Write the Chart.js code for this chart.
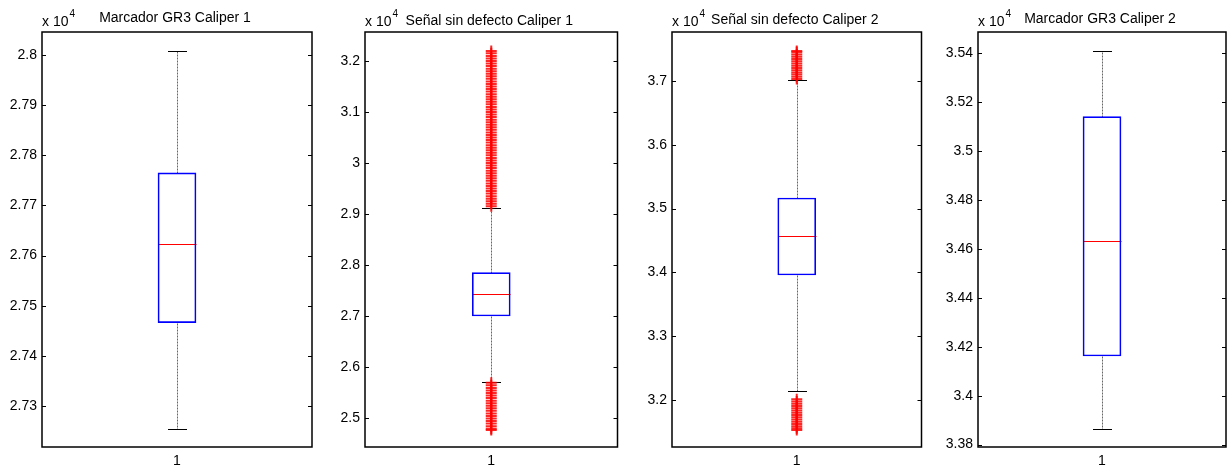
<!DOCTYPE html>
<html>
<head>
<meta charset="utf-8">
<script src="https://cdn.jsdelivr.net/npm/chart.js@4.4.1/dist/chart.umd.min.js"></script>
<style>
  body { margin: 0; background: #fff; width: 1230px; height: 468px; overflow: hidden; position: relative; }
  canvas { position: absolute; top: 0; }
</style>
</head>
<body>
<script>
// data (raw values, axes labelled in units of 10^4)
const categories = ['1'];
const titles = ['Marcador GR3 Caliper 1', 'Señal sin defecto Caliper 1', 'Señal sin defecto Caliper 2', 'Marcador GR3 Caliper 2'];

const boxMin    = [27254, 25706, 32141, 33864];
const boxQ1     = [27466, 27000, 33959, 34162];
const boxMedian = [27623, 27426, 34571, 34633];
const boxQ3     = [27765, 27849, 35166, 35141];
const boxMax    = [28008, 29124, 37016, 35409];

const outliers1 = [];
const outliers2 = [
  29150, 29200, 29250, 29300, 29350, 29400, 29450, 29500, 29550, 29600,
  29650, 29700, 29750, 29800, 29850, 29900, 29950, 30000, 30050, 30100,
  30150, 30200, 30250, 30300, 30350, 30400, 30450, 30500, 30550, 30600,
  30650, 30700, 30750, 30800, 30850, 30900, 30950, 31000, 31050, 31100,
  31150, 31200, 31250, 31300, 31350, 31400, 31450, 31500, 31550, 31600,
  31650, 31700, 31750, 31800, 31850, 31900, 31950, 32000, 32050, 32100,
  32150, 32196,
  25690, 25640, 25590, 25540, 25490, 25440, 25390, 25340, 25290, 25240,
  25190, 25140, 25090, 25040, 24990, 24940, 24890, 24840, 24790, 24765
];
const outliers3 = [
  37030, 37065, 37100, 37135, 37170, 37205, 37240, 37275, 37310, 37345,
  37380, 37415, 37450, 37470,
  32010, 31975, 31940, 31905, 31870, 31835, 31800, 31765, 31730, 31695,
  31660, 31625, 31590, 31555, 31530
];
const outliers4 = [];

const yMin = [27218, 24431, 31263, 33790];
const yMax = [28046, 32569, 37768, 35487];
const yTicks1 = [27300, 27400, 27500, 27600, 27700, 27800, 27900, 28000];
const yTicks2 = [25000, 26000, 27000, 28000, 29000, 30000, 31000, 32000];
const yTicks3 = [32000, 33000, 34000, 35000, 36000, 37000];
const yTicks4 = [33800, 34000, 34200, 34400, 34600, 34800, 35000, 35200, 35400];

const outliers = [outliers1, outliers2, outliers3, outliers4];
const yTicks = [yTicks1, yTicks2, yTicks3, yTicks4];

// layout of the four axes boxes (pixels)
const axLeft  = [42, 365, 672, 978];
const axRight = [312, 622, 926, 1226];
const titleY  = [22, 24.5, 24, 22.5];
const YAXIS_W = 45, TOP = 32, XAXIS_H = 21, RIGHT_PAD = 3;
const FONT = '"Liberation Sans", Arial, Helvetica, sans-serif';

const fmt = v => String(parseFloat((v / 1e4).toFixed(4)));

const boxPlugin = {
  id: 'boxParts',
  beforeDatasetsDraw(chart) {
    const s = chart.options.plugins.boxParts;
    const { ctx, scales: { x, y } } = chart;
    const cx = Math.round(x.getPixelForValue(0)) + 0.5;
    const py = v => Math.round(y.getPixelForValue(v)) + 0.5;
    ctx.save();
    ctx.lineWidth = 1;
    // dashed whiskers
    ctx.strokeStyle = '#666';
    ctx.setLineDash([2, 1]);
    ctx.beginPath();
    ctx.moveTo(cx, py(s.q3)); ctx.lineTo(cx, py(s.max));
    ctx.moveTo(cx, py(s.q1)); ctx.lineTo(cx, py(s.min));
    ctx.stroke();
    // caps
    ctx.setLineDash([]);
    ctx.strokeStyle = '#000';
    ctx.beginPath();
    [s.max, s.min].forEach(v => { ctx.moveTo(cx - 9.5, py(v)); ctx.lineTo(cx + 9.5, py(v)); });
    ctx.stroke();
    // median
    ctx.strokeStyle = '#ff0000';
    ctx.beginPath();
    ctx.moveTo(cx - 19, py(s.median)); ctx.lineTo(cx + 19, py(s.median));
    ctx.stroke();
    ctx.restore();
  }
};

const framePlugin = {
  id: 'frame',
  afterDraw(chart) {
    const o = chart.options.plugins.frame;
    const { ctx, chartArea: a, scales: { y } } = chart;
    ctx.save();
    ctx.strokeStyle = '#000';
    ctx.lineWidth = 1.5;
    ctx.strokeRect(a.left, a.top, a.right - a.left, a.bottom - a.top);
    ctx.lineWidth = 1;
    ctx.beginPath();
    y.ticks.forEach(t => {
      const p = Math.round(y.getPixelForValue(t.value)) + 0.5;
      ctx.moveTo(a.left, p); ctx.lineTo(a.left + 4, p);
      ctx.moveTo(a.right - 4, p); ctx.lineTo(a.right, p);
    });
    ctx.stroke();
    // exponent label and title
    ctx.fillStyle = '#000';
    ctx.textBaseline = 'alphabetic';
    ctx.textAlign = 'left';
    ctx.font = '14px ' + FONT;
    ctx.fillText('x 10', a.left, 25.5);
    const w = ctx.measureText('x 10').width;
    ctx.font = '10px ' + FONT;
    ctx.fillText('4', a.left + w + 1, 17);
    ctx.font = '14px ' + FONT;
    ctx.textAlign = 'center';
    ctx.fillText(o.title, (a.left + a.right) / 2 - 2, o.titleY);
    ctx.restore();
  }
};

Chart.defaults.font.family = FONT;
Chart.defaults.font.size = 14;
Chart.defaults.color = '#000';

for (let i = 0; i < 4; i++) {
  const canvas = document.createElement('canvas');
  const W = axRight[i] - axLeft[i] + YAXIS_W + RIGHT_PAD;
  canvas.width = W;
  canvas.height = 468;
  canvas.style.left = (axLeft[i] - YAXIS_W) + 'px';
  canvas.style.width = W + 'px';
  canvas.style.height = '468px';
  document.body.appendChild(canvas);

  const ticks = yTicks[i];
  new Chart(canvas.getContext('2d'), {
    type: 'bar',
    data: {
      labels: categories,
      datasets: [
        {
          data: [[boxQ1[i], boxQ3[i]]],
          backgroundColor: 'rgba(0,0,0,0)',
          borderColor: '#0000ff',
          borderWidth: 1,
          borderSkipped: false,
          barThickness: 38
        },
        {
          type: 'scatter',
          data: outliers[i].map(v => ({ x: categories[0], y: v })),
          pointStyle: 'cross',
          radius: 5.5,
          borderColor: 'rgba(255,0,0,0.85)',
          borderWidth: 2,
          backgroundColor: '#ff0000'
        }
      ]
    },
    options: {
      responsive: false,
      animation: false,
      events: [],
      layout: { padding: { top: TOP, right: RIGHT_PAD, left: 0, bottom: 0 } },
      plugins: {
        legend: { display: false },
        tooltip: { enabled: false },
        title: { display: false },
        boxParts: { min: boxMin[i], q1: boxQ1[i], median: boxMedian[i], q3: boxQ3[i], max: boxMax[i] },
        frame: { title: titles[i], titleY: titleY[i] }
      },
      scales: {
        x: {
          type: 'category',
          offset: true,
          grid: { display: false, drawTicks: false },
          border: { display: false },
          ticks: { padding: 6, maxRotation: 0 },
          afterFit: s => { s.height = XAXIS_H; }
        },
        y: {
          min: yMin[i],
          max: yMax[i],
          grid: { display: false, drawTicks: false },
          border: { display: false },
          ticks: { padding: 5, callback: v => fmt(v) },
          afterBuildTicks: s => { s.ticks = ticks.map(v => ({ value: v })); },
          afterFit: s => { s.width = YAXIS_W; }
        }
      }
    },
    plugins: [boxPlugin, framePlugin]
  });
}
</script>
</body>
</html>
